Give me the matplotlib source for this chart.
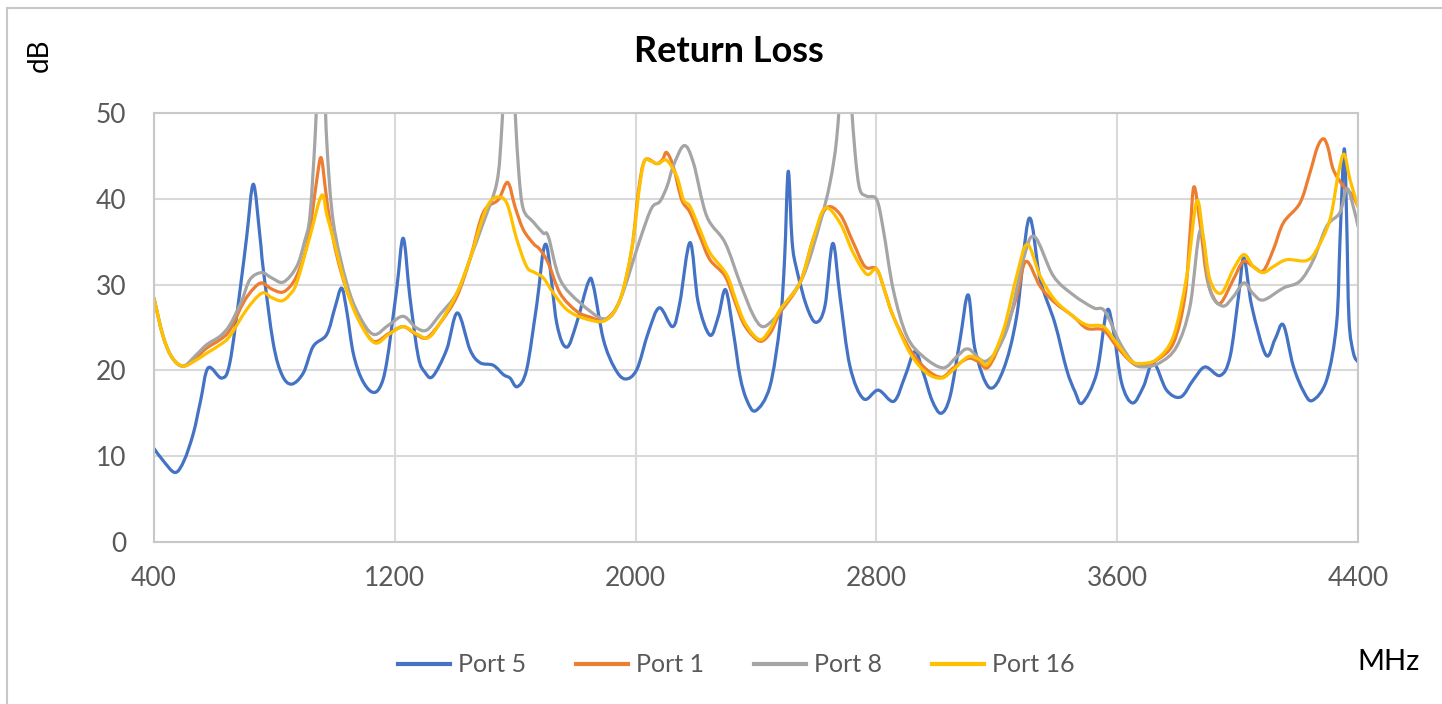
import matplotlib
matplotlib.use("Agg")
import numpy as np
import matplotlib.pyplot as plt
from matplotlib.lines import Line2D
from matplotlib.path import Path
from matplotlib.patches import PathPatch

plt.rcParams["font.family"] = ["Lato", "DejaVu Sans"]

# (MHz, dB)
port5 = [
    (400, 10.9), (430, 9.5), (470, 8.1), (500, 9.5), (531, 12.7), (555, 16.5),
    (580, 20.3), (625, 19.1), (652, 20.9), (686, 29.4), (708, 35.6), (730, 41.7),
    (752, 35.6), (763, 31.8), (796, 23.2), (825, 19.5), (857, 18.4), (896, 19.7),
    (929, 22.8), (974, 24.2), (1001, 27.3), (1023, 29.6), (1040, 27.0), (1062, 22.0),
    (1090, 19.0), (1123, 17.5), (1150, 18.0), (1173, 20.9), (1206, 29.4), (1228, 35.4),
    (1250, 28.6), (1278, 21.6), (1300, 19.8), (1326, 19.3), (1372, 22.4), (1408, 26.7),
    (1450, 22.4), (1483, 20.9), (1527, 20.6), (1561, 19.5), (1583, 19.1), (1607, 18.1),
    (1638, 20.1), (1671, 27.5), (1702, 34.7), (1738, 25.5), (1771, 22.7), (1804, 25.5),
    (1843, 30.3), (1860, 29.8), (1893, 23.6), (1930, 20.3), (1965, 19.0), (2004, 20.1),
    (2042, 24.4), (2079, 27.3), (2123, 25.1), (2147, 27.9), (2181, 34.9), (2208, 27.9),
    (2247, 24.1), (2275, 26.3), (2299, 29.4), (2325, 24.4), (2347, 19.3), (2370, 16.5),
    (2399, 15.3), (2446, 18.1), (2480, 25.5), (2495, 33.0), (2507, 43.2), (2520, 35.0),
    (2535, 31.8), (2568, 27.5), (2599, 25.6), (2629, 27.5), (2655, 34.8), (2679, 28.6),
    (2712, 20.5), (2757, 16.7), (2806, 17.7), (2858, 16.4), (2895, 19.3), (2928, 22.2),
    (2956, 19.7), (2985, 16.5), (3015, 15.0), (3045, 17.0), (3078, 23.6), (3105, 28.8),
    (3128, 22.4), (3175, 18.0), (3222, 20.1), (3266, 26.3), (3307, 37.7), (3344, 30.6),
    (3393, 25.5), (3432, 20.1), (3460, 17.5), (3484, 16.2), (3532, 19.7), (3565, 26.9),
    (3587, 24.7), (3615, 18.5), (3651, 16.2), (3687, 18.1), (3720, 20.9), (3764, 17.7),
    (3811, 16.9), (3853, 18.9), (3892, 20.4), (3942, 19.4), (3975, 21.6), (4003, 28.6),
    (4021, 33.1), (4047, 27.5), (4094, 21.8), (4124, 23.6), (4152, 25.3), (4185, 20.5),
    (4220, 17.5), (4249, 16.5), (4296, 18.9), (4329, 25.5), (4340, 35.0), (4354, 45.8),
    (4362, 38.0), (4370, 26.0), (4385, 22.0), (4400, 21.0),
]

port1 = [
    (400, 28.4), (430, 24.0), (460, 21.5), (497, 20.5), (540, 21.5), (575, 22.6),
    (620, 23.6), (652, 24.7), (697, 27.9), (730, 29.5), (758, 30.2), (790, 29.5),
    (824, 29.1), (850, 29.7), (874, 31.0), (900, 33.5), (918, 36.4), (940, 42.0),
    (955, 44.8), (970, 41.0), (985, 37.2), (1010, 33.0), (1040, 29.4), (1080, 26.0),
    (1129, 23.4), (1180, 24.3), (1228, 25.1), (1270, 24.2), (1306, 23.8), (1350, 25.5),
    (1406, 28.6), (1450, 33.0), (1494, 38.4), (1544, 39.9), (1575, 41.9), (1600, 39.0),
    (1627, 36.4), (1660, 34.8), (1682, 34.1), (1710, 32.5), (1749, 29.0), (1804, 26.9),
    (1850, 26.2), (1898, 25.9), (1948, 28.2), (1987, 34.1), (2010, 41.0), (2031, 44.5),
    (2070, 44.1), (2090, 44.6), (2103, 45.4), (2125, 43.8), (2153, 39.9), (2181, 38.4),
    (2215, 35.5), (2247, 32.9), (2297, 31.0), (2330, 28.0), (2358, 25.5), (2390, 24.0),
    (2419, 23.4), (2450, 24.5), (2480, 26.7), (2546, 30.2), (2590, 35.3), (2633, 38.9),
    (2679, 38.2), (2723, 34.9), (2762, 32.1), (2801, 31.8), (2830, 29.0), (2856, 26.3),
    (2912, 22.4), (2967, 20.1), (3017, 19.2), (3056, 20.3), (3105, 21.4), (3140, 21.0),
    (3172, 20.4), (3222, 24.0), (3266, 28.6), (3297, 32.7), (3344, 29.8), (3393, 27.9),
    (3454, 26.3), (3499, 24.9), (3554, 24.7), (3598, 22.8), (3643, 21.1), (3676, 20.5),
    (3731, 21.2), (3787, 23.2), (3825, 28.6), (3842, 36.0), (3855, 41.4), (3875, 37.2),
    (3897, 31.0), (3920, 28.5), (3945, 27.9), (3986, 30.6), (4019, 32.7), (4052, 32.1),
    (4085, 31.6), (4119, 34.1), (4152, 37.2), (4207, 39.5), (4240, 43.0), (4265, 46.0),
    (4285, 47.0), (4300, 46.0), (4318, 43.4), (4351, 41.5), (4380, 40.5), (4400, 39.1),
]

port8 = [
    (400, 28.4), (430, 24.0), (460, 21.5), (497, 20.5), (540, 21.8), (575, 23.0),
    (620, 24.0), (652, 25.3), (690, 28.0), (719, 30.6), (758, 31.4), (790, 30.8),
    (830, 30.3), (874, 32.1), (900, 35.0), (918, 38.0), (935, 47.0), (945, 55.0),
    (955, 62.0), (965, 55.0), (975, 46.0), (996, 37.2), (1040, 30.2), (1080, 26.5),
    (1129, 24.2), (1180, 25.3), (1228, 26.3), (1270, 25.0), (1306, 24.7), (1350, 26.5),
    (1406, 29.0), (1450, 33.0), (1494, 37.2), (1539, 41.9), (1555, 48.0), (1570, 58.0),
    (1585, 60.0), (1600, 50.0), (1612, 43.0), (1627, 38.8), (1660, 37.3), (1693, 36.0),
    (1710, 35.6), (1749, 30.6), (1815, 27.9), (1898, 26.0), (1948, 28.2), (2015, 35.3),
    (2053, 38.9), (2081, 39.7), (2105, 41.5), (2125, 43.8), (2161, 46.2), (2192, 44.2),
    (2236, 38.0), (2297, 34.9), (2347, 30.2), (2390, 26.5), (2422, 25.1), (2460, 26.0),
    (2491, 27.5), (2557, 31.0), (2613, 37.2), (2646, 41.9), (2668, 47.0), (2685, 55.0),
    (2700, 60.0), (2715, 52.0), (2730, 45.0), (2745, 41.1), (2768, 40.3), (2801, 39.9),
    (2823, 36.4), (2856, 29.4), (2901, 24.0), (2956, 21.6), (3022, 20.3), (3067, 21.6),
    (3105, 22.5), (3166, 21.1), (3233, 24.7), (3288, 32.9), (3325, 35.6), (3388, 31.0),
    (3454, 28.8), (3521, 27.3), (3559, 26.9), (3609, 23.2), (3654, 20.9), (3687, 20.4),
    (3742, 20.9), (3798, 22.8), (3842, 27.5), (3877, 36.4), (3908, 29.4), (3950, 27.5),
    (3986, 28.6), (4021, 30.2), (4050, 29.0), (4085, 28.2), (4152, 29.6), (4207, 30.4),
    (4252, 32.9), (4296, 36.8), (4340, 38.4), (4363, 41.2), (4385, 39.0), (4400, 36.8),
]

port16 = [
    (400, 28.4), (430, 24.0), (460, 21.5), (497, 20.5), (540, 21.2), (575, 22.0),
    (620, 23.0), (652, 24.0), (708, 27.1), (758, 29.0), (790, 28.5), (824, 28.1),
    (850, 28.8), (874, 30.2), (918, 35.6), (957, 40.4), (975, 38.0), (996, 35.3),
    (1040, 29.4), (1085, 25.5), (1134, 23.2), (1180, 24.2), (1228, 25.1), (1270, 24.3),
    (1311, 23.8), (1350, 25.5), (1406, 29.0), (1450, 33.0), (1483, 36.8), (1510, 39.3),
    (1538, 40.2), (1572, 39.5), (1605, 35.3), (1638, 32.1), (1665, 31.4), (1693, 30.8),
    (1727, 29.0), (1771, 27.1), (1826, 26.1), (1898, 25.8), (1948, 28.2), (1987, 34.1),
    (2015, 41.9), (2031, 44.5), (2050, 44.4), (2076, 44.1), (2103, 44.5), (2137, 42.6),
    (2159, 39.9), (2181, 39.1), (2215, 36.3), (2247, 33.7), (2302, 31.2), (2330, 28.5),
    (2358, 25.9), (2390, 24.2), (2419, 23.6), (2450, 25.0), (2480, 27.1), (2546, 30.2),
    (2590, 35.3), (2629, 38.9), (2679, 37.2), (2723, 33.7), (2768, 31.2), (2801, 31.8),
    (2830, 29.0), (2856, 26.3), (2912, 22.0), (2967, 19.7), (3017, 19.1), (3056, 20.1),
    (3105, 21.6), (3140, 21.3), (3172, 20.8), (3222, 24.7), (3266, 31.0), (3301, 34.7),
    (3344, 31.0), (3393, 28.2), (3454, 26.3), (3499, 25.3), (3554, 25.1), (3598, 23.2),
    (3643, 21.2), (3676, 20.8), (3731, 21.3), (3787, 24.0), (3831, 31.0), (3864, 39.7),
    (3886, 35.6), (3908, 30.6), (3945, 29.0), (3986, 31.8), (4021, 33.5), (4052, 32.1),
    (4085, 31.4), (4119, 32.1), (4163, 32.9), (4229, 32.8), (4263, 34.1), (4307, 37.6),
    (4335, 43.0), (4354, 45.2), (4373, 42.3), (4400, 39.1),
]

series_names = ["Port 5", "Port 1", "Port 8", "Port 16"]
series_colors = ["#4472C4", "#ED7D31", "#A5A5A5", "#FFC000"]
x_ticks = [400, 1200, 2000, 2800, 3600, 4400]
y_ticks = [0, 10, 20, 30, 40, 50]


def smooth_path(data):
    # Excel-style smoothed line: cubic Bezier segments through the points
    pts = np.array(data, dtype=float)
    n = len(pts)
    verts = [pts[0]]
    codes = [Path.MOVETO]
    for i in range(n - 1):
        p0 = pts[i - 1] if i > 0 else pts[i]
        p1 = pts[i]
        p2 = pts[i + 1]
        p3 = pts[i + 2] if i + 2 < n else pts[i + 1]
        verts += [p1 + (p2 - p0) / 6, p2 - (p3 - p1) / 6, p2]
        codes += [Path.CURVE4] * 3
    return Path(verts, codes)


fig = plt.figure(figsize=(14.42, 7.04), dpi=100)
W, H = 1442, 704
ax = fig.add_axes([154 / W, 1 - 542 / H, (1358 - 154) / W, (542 - 113) / H])

for data, color in zip([port5, port1, port8, port16], series_colors):
    patch = PathPatch(smooth_path(data), fill=False, edgecolor=color, lw=2.3,
                      joinstyle="round", capstyle="round")
    ax.add_patch(patch)

ax.set_xlim(400, 4400)
ax.set_ylim(0, 50)
ax.set_xticks(x_ticks)
ax.set_yticks(y_ticks)
ax.grid(True, color="#D9D9D9", lw=1.5)
ax.set_axisbelow(True)
for sp in ax.spines.values():
    sp.set_color("#C8C8C8")
    sp.set_linewidth(1.5)
ax.tick_params(length=0, labelsize=19, labelcolor="#595959")
ax.tick_params(axis="x", pad=17)
ax.tick_params(axis="y", pad=20)

fig.text(729 / W, 1 - 52 / H, "Return Loss", ha="center", va="center",
         fontsize=26, fontweight="bold", color="black")
fig.text(40 / W, 1 - 55 / H, "dB", ha="center", va="center", rotation=90,
         fontsize=20, color="black")
fig.text(1388 / W, 1 - 662 / H, "MHz", ha="center", va="center",
         fontsize=21, color="black")

handles = [Line2D([], [], color=c, lw=3) for c in series_colors]
leg = fig.legend(handles, series_names, loc="center", bbox_to_anchor=(736 / W, 1 - 665 / H),
                 ncol=4, frameon=False, fontsize=18, handlelength=2.1,
                 handletextpad=0.3, columnspacing=2.0)
for t in leg.get_texts():
    t.set_color("#595959")

# chart frame: top and left edges
fig.add_artist(Line2D([7 / W, 7 / W], [0, 1 - 8 / H], color="#C8C8C8", lw=1.5))
fig.add_artist(Line2D([7 / W, 1], [1 - 8 / H, 1 - 8 / H], color="#C8C8C8", lw=1.5))

fig.savefig("out.png", dpi=100)
